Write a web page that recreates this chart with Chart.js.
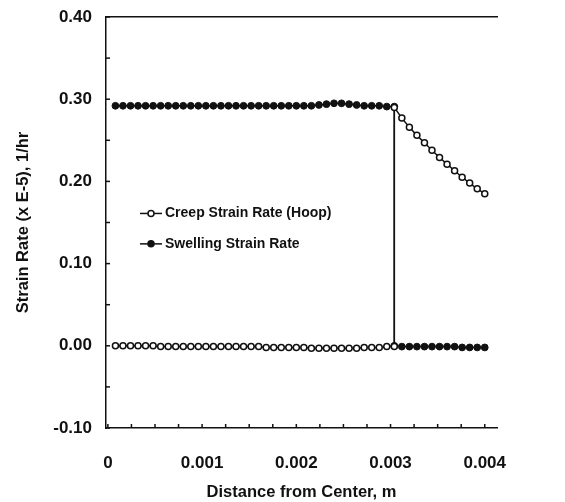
<!DOCTYPE html>
<html>
<head>
<meta charset="utf-8">
<script src="https://cdn.jsdelivr.net/npm/chart.js@4.4.1/dist/chart.umd.min.js"></script>
<style>
  html, body { margin: 0; padding: 0; background: #fff; }
  #wrap { width: 565px; height: 502px; }
</style>
</head>
<body>
<div id="wrap"><canvas id="chart" width="565" height="502"></canvas></div>
<script>
// distance from center (m); 0.00304 appears twice for the step at the boundary
var distance = [
    0.00008, 0.00016, 0.00024, 0.00032, 0.0004, 0.00048, 0.00056, 0.00064, 0.00072, 0.0008,
    0.00088, 0.00096, 0.00104, 0.00112, 0.0012, 0.00128, 0.00136, 0.00144, 0.00152, 0.0016,
    0.00168, 0.00176, 0.00184, 0.00192, 0.002, 0.00208, 0.00216, 0.00224, 0.00232, 0.0024,
    0.00248, 0.00256, 0.00264, 0.00272, 0.0028, 0.00288, 0.00296, 0.00304,
    0.00304,
    0.00312, 0.0032, 0.00328, 0.00336, 0.00344, 0.00352, 0.0036, 0.00368, 0.00376, 0.00384,
    0.00392, 0.004
];
var creep = [
    0.000, 0.000, 0.000, 0.000, 0.000, 0.000, -0.001, -0.001, -0.001, -0.001,
    -0.001, -0.001, -0.001, -0.001, -0.001, -0.001, -0.001, -0.001, -0.001, -0.001,
    -0.002, -0.002, -0.002, -0.002, -0.002, -0.002, -0.003, -0.003, -0.003, -0.003,
    -0.003, -0.003, -0.003, -0.002, -0.002, -0.002, -0.001, -0.001,
    0.290,
    0.277, 0.266, 0.256, 0.247, 0.238, 0.229, 0.221, 0.213, 0.205, 0.198,
    0.191, 0.185
];
var swelling = [
    0.292, 0.292, 0.292, 0.292, 0.292, 0.292, 0.292, 0.292, 0.292, 0.292,
    0.292, 0.292, 0.292, 0.292, 0.292, 0.292, 0.292, 0.292, 0.292, 0.292,
    0.292, 0.292, 0.292, 0.292, 0.292, 0.292, 0.292, 0.293, 0.294, 0.295,
    0.295, 0.294, 0.293, 0.292, 0.292, 0.292, 0.291, 0.291,
    0.000,
    -0.001, -0.001, -0.001, -0.001, -0.001, -0.001, -0.001, -0.001, -0.002, -0.002,
    -0.002, -0.002
];
var yLabels = ["-0.10", "0.00", "0.10", "0.20", "0.30", "0.40"];
var xLabels = ["0", "0.001", "0.002", "0.003", "0.004"];

function pairs(xs, ys) {
    return xs.map(function (x, i) { return { x: x, y: ys[i] }; });
}

var ink = "#111111";
var fontFamily = "'Liberation Sans', Arial, sans-serif";

// small inward tick marks and the legend inside the plot
var extras = {
    id: "extras",
    afterDraw: function (chart) {
        var c = chart.ctx;
        var xs = chart.scales.x, ys = chart.scales.y, area = chart.chartArea;
        c.save();
        c.strokeStyle = ink;
        c.lineWidth = 1.5;
        ys.ticks.forEach(function (t) {
            var p = ys.getPixelForValue(t.value);
            c.beginPath(); c.moveTo(area.left, p); c.lineTo(area.left + 4, p); c.stroke();
        });
        xs.ticks.forEach(function (t) {
            var p = xs.getPixelForValue(t.value);
            c.beginPath(); c.moveTo(p, area.bottom); c.lineTo(p, area.bottom - 4); c.stroke();
        });

        var rows = [
            { text: "Creep Strain Rate (Hoop)", fill: "#ffffff", y: ys.getPixelForValue(0.161) },
            { text: "Swelling Strain Rate", fill: ink, y: ys.getPixelForValue(0.124) }
        ];
        var lx = area.left + 34;
        c.font = "bold 14px " + fontFamily;
        c.textBaseline = "middle";
        c.fillStyle = ink;
        rows.forEach(function (r) {
            c.beginPath(); c.moveTo(lx, r.y); c.lineTo(lx + 22, r.y); c.stroke();
            c.beginPath(); c.arc(lx + 11, r.y, 3, 0, Math.PI * 2);
            c.fillStyle = r.fill; c.fill(); c.stroke();
            c.fillStyle = ink;
            c.fillText(r.text, lx + 25, r.y);
        });
        c.restore();
    }
};

var ctx = document.getElementById("chart");
var myChart = new Chart(ctx, {
    type: "scatter",
    data: {
        datasets: [
            {
                label: "Creep Strain Rate (Hoop)",
                data: pairs(distance, creep),
                showLine: true,
                borderColor: ink,
                borderWidth: 1.5,
                pointBackgroundColor: "#ffffff",
                pointBorderColor: ink,
                pointBorderWidth: 1.5,
                pointRadius: 3
            },
            {
                label: "Swelling Strain Rate",
                data: pairs(distance, swelling),
                showLine: true,
                borderColor: ink,
                borderWidth: 1.5,
                pointBackgroundColor: ink,
                pointBorderColor: ink,
                pointBorderWidth: 1,
                pointRadius: 3.4
            }
        ]
    },
    options: {
        responsive: false,
        animation: false,
        maintainAspectRatio: false,
        layout: { padding: { right: 68 } },
        plugins: {
            legend: { display: false },
            tooltip: { enabled: false }
        },
        scales: {
            x: {
                type: "linear",
                min: -0.00002,
                max: 0.00413,
                afterFit: function (s) { s.height = 74; s.paddingLeft = 0; s.paddingRight = 0; },
                afterBuildTicks: function (s) {
                    var t = [];
                    for (var v = 0; v <= 0.00413; v += 0.00025) t.push({ value: +v.toFixed(5) });
                    s.ticks = t;
                },
                ticks: {
                    color: ink,
                    padding: 25,
                    autoSkip: false,
                    maxRotation: 0,
                    font: { family: fontFamily, size: 17, weight: "bold" },
                    callback: function (v) {
                        var i = Math.round(v / 0.001);
                        return Math.abs(v - i * 0.001) < 1e-7 ? xLabels[i] : "";
                    }
                },
                grid: { display: false, drawTicks: false },
                border: { display: true, color: ink, width: 1.5 },
                title: {
                    display: true,
                    text: "Distance from Center, m",
                    color: ink,
                    padding: { top: 0, bottom: 0 },
                    font: { family: fontFamily, size: 16.5, weight: "bold" }
                }
            },
            x2: {
                type: "linear",
                position: "top",
                min: 0,
                max: 0.00415,
                afterFit: function (s) { s.height = 17; },
                ticks: { display: false },
                grid: { display: false, drawTicks: false },
                border: { display: true, color: ink, width: 1.5 }
            },
            y: {
                min: -0.1,
                max: 0.4,
                afterFit: function (s) { s.width = 106; s.paddingTop = 0; s.paddingBottom = 0; },
                afterBuildTicks: function (s) {
                    var t = [];
                    for (var v = -0.1; v <= 0.4001; v += 0.05) t.push({ value: +v.toFixed(2) });
                    s.ticks = t;
                },
                ticks: {
                    color: ink,
                    padding: 14,
                    autoSkip: false,
                    font: { family: fontFamily, size: 17, weight: "bold" },
                    callback: function (v) {
                        var i = Math.round((v + 0.1) / 0.1);
                        return Math.abs(v + 0.1 - i * 0.1) < 1e-6 ? yLabels[i] : "";
                    }
                },
                grid: { display: false, drawTicks: false },
                border: { display: true, color: ink, width: 1.5 },
                title: {
                    display: true,
                    text: "Strain Rate (x E-5), 1/hr",
                    color: ink,
                    padding: { top: 14, bottom: 0 },
                    font: { family: fontFamily, size: 16.5, weight: "bold" }
                }
            }
        }
    },
    plugins: [extras]
});
</script>
</body>
</html>
